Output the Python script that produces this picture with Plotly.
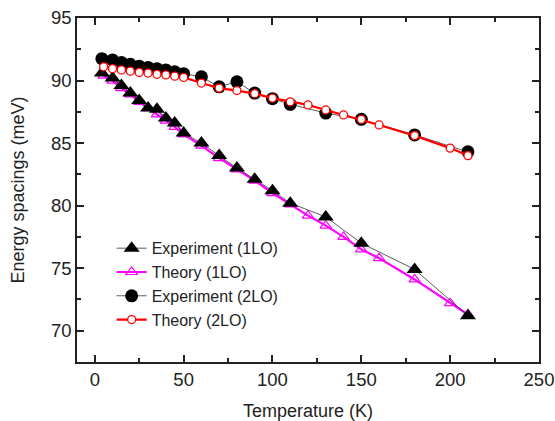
import plotly.graph_objects as go

# Experiment (1LO)
t_exp1 = [4, 10, 15, 20, 25, 30, 35, 40, 45, 50, 60, 70, 80, 90, 100, 110, 130, 150, 180, 210]
e_exp1 = [90.6, 90.2, 89.6, 89.0, 88.4, 87.8, 87.7, 87.0, 86.6, 85.8, 85.0, 84.0, 83.0, 82.1, 81.2, 80.2, 79.1, 77.0, 74.9, 71.2]

# Theory (1LO)
t_th1 = [5, 10, 15, 20, 25, 30, 35, 40, 45, 50, 60, 70, 80, 90, 100, 110, 120, 130, 140, 150, 160, 180, 200, 210]
e_th1 = [90.4, 90.0, 89.4, 88.9, 88.3, 87.8, 87.3, 86.8, 86.3, 85.7, 84.8, 83.8, 82.9, 82.0, 81.0, 80.1, 79.2, 78.4, 77.5, 76.5, 75.8, 74.1, 72.2, 71.3]

# Experiment (2LO)
t_exp2 = [4, 10, 15, 20, 25, 30, 35, 40, 45, 50, 60, 70, 80, 90, 100, 110, 130, 150, 180, 210]
e_exp2 = [91.75, 91.65, 91.45, 91.3, 91.15, 91.05, 90.95, 90.85, 90.7, 90.55, 90.3, 89.5, 89.9, 89.0, 88.55, 88.1, 87.4, 86.9, 85.65, 84.3]

# Theory (2LO)
t_th2 = [5, 10, 15, 20, 25, 30, 35, 40, 45, 50, 60, 70, 80, 90, 100, 110, 120, 130, 140, 150, 160, 180, 200, 210]
e_th2 = [91.1, 90.95, 90.85, 90.75, 90.65, 90.6, 90.5, 90.45, 90.35, 90.25, 89.8, 89.4, 89.2, 88.95, 88.6, 88.3, 88.05, 87.65, 87.25, 86.9, 86.45, 85.6, 84.6, 84.0]

FONT = "Liberation Sans, Arial, sans-serif"
INK = "#222222"

fig = go.Figure()

fig.add_trace(go.Scatter(
    x=t_th1, y=e_th1, mode="lines+markers", name="Theory (1LO)", legendrank=2,
    line=dict(color="#ff00ff", width=2.2),
    marker=dict(symbol="triangle-up-open", size=10, color="#ff00ff", line=dict(width=1.2)),
))
fig.add_trace(go.Scatter(
    x=t_exp1, y=e_exp1, mode="lines+markers", name="Experiment (1LO)", legendrank=1,
    line=dict(color="#333333", width=0.8),
    marker=dict(symbol="triangle-up", size=14, color="black"),
))
fig.add_trace(go.Scatter(
    x=t_exp2, y=e_exp2, mode="lines+markers", name="Experiment (2LO)", legendrank=3,
    line=dict(color="#333333", width=0.8),
    marker=dict(symbol="circle", size=13, color="black"),
))
fig.add_trace(go.Scatter(
    x=t_th2, y=e_th2, mode="lines+markers", name="Theory (2LO)", legendrank=4,
    line=dict(color="#ff0000", width=2.2),
    marker=dict(symbol="circle", size=8, color="white", line=dict(color="#ff0000", width=1.3)),
))

axis_common = dict(
    showline=True, linecolor=INK, linewidth=1.5, mirror="ticks",
    ticks="inside", ticklen=7, tickwidth=1.5, tickcolor=INK,
    showgrid=False, zeroline=False, automargin=False,
    ticklabeloverflow="allow",
    tickfont=dict(family=FONT, size=18.5, color=INK),
)

fig.update_xaxes(
    range=[-10, 250], tickvals=[0, 50, 100, 150, 200, 250],
    minor=dict(ticks="inside", ticklen=4, tickwidth=1.5, tickcolor=INK, dtick=25, tick0=0),
    title=dict(text="Temperature (K)", font=dict(family=FONT, size=18, color=INK), standoff=15),
    **axis_common,
)
fig.update_yaxes(
    range=[67.5, 95], tickvals=[70, 75, 80, 85, 90, 95],
    minor=dict(ticks="inside", ticklen=4, tickwidth=1.5, tickcolor=INK, dtick=2.5, tick0=0),
    title=dict(text="Energy spacings (meV)", font=dict(family=FONT, size=18, color=INK), standoff=22),
    **axis_common,
)

fig.update_layout(
    width=555, height=421,
    margin=dict(l=77, r=16, t=18, b=59),
    paper_bgcolor="white", plot_bgcolor="white",
    showlegend=True,
    legend=dict(
        x=0.075, y=0.38, xanchor="left", yanchor="top",
        bgcolor="rgba(0,0,0,0)", borderwidth=0,
        font=dict(family=FONT, size=16, color=INK),
        tracegroupgap=0, itemsizing="trace",
    ),
)

# remove the default 8px page margin so the figure sits at the window's corner
fig.write_html(
    "out.html",
    config={"displayModeBar": False},
    post_script="document.body.style.margin='0px';",
)
